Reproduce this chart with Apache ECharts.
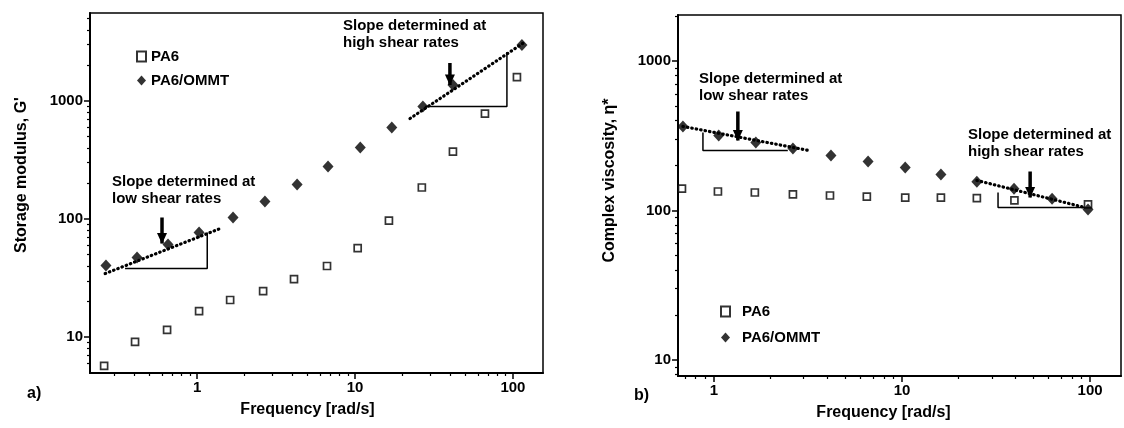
<!DOCTYPE html>
<html>
<head>
<meta charset="utf-8">
<script src="https://cdn.jsdelivr.net/npm/echarts@6/dist/echarts.min.js"></script>
<style>
  html, body { margin: 0; padding: 0; background: #fff; }
  #main { width: 1124px; height: 428px; }
</style>
</head>
<body>
<div id="main"></div>
<script>
// panel a) storage modulus G'
const freqA_PA6 = [0.258, 0.405, 0.646, 1.03, 1.62, 2.62, 4.11, 6.65, 10.4, 16.4, 26.5, 41.7, 66.5, 106]
const gA_PA6 = [5.7, 9.1, 11.5, 16.6, 20.6, 24.5, 31, 40, 56.8, 97, 185, 373, 783, 1596]
const freqA_OMMT = [0.265, 0.417, 0.655, 1.03, 1.69, 2.69, 4.3, 6.75, 10.8, 17.1, 26.9, 41.7, 114]
const gA_OMMT = [40.4, 47.2, 60.8, 76.9, 103, 141, 196, 279, 404, 596, 897, 1367, 2985]

// panel b) complex viscosity
const freqB_PA6 = [0.676, 1.05, 1.65, 2.63, 4.14, 6.5, 10.4, 16.1, 25, 39.6, 97.5]
const etaB_PA6 = [140, 134, 132, 128, 126, 124, 122, 122, 121, 117, 110]
const freqB_OMMT = [0.684, 1.06, 1.67, 2.63, 4.19, 6.6, 10.4, 16.1, 25, 39.4, 62.8, 97.5]
const etaB_OMMT = [365, 318, 285, 260, 233, 213, 194, 174, 156, 140, 120, 101.5]

// slope guides [x, y]
const slopeA_low = [[0.262, 34.5], [1.40, 83]]
const triA_low = [[0.35, 38.1], [1.16, 38.1], [1.16, 76.9]]
const arrowA_low = [[0.60, 103], [0.60, 62]]
const slopeA_high = [[22.3, 711], [119, 3162]]
const triA_high = [[27.7, 897], [91.6, 897], [91.6, 2600]]
const arrowA_high = [[39.9, 2100], [39.9, 1367]]
const slopeB_low = [[0.684, 365], [3.2, 252]]
const triB_low = [[0.874, 332], [0.874, 252], [2.47, 252]]
const arrowB_low = [[1.34, 459], [1.34, 294]]
const slopeB_high = [[25, 159], [94, 104.7]]
const triB_high = [[32.4, 132], [32.4, 104.7], [94, 104.7]]
const arrowB_high = [[48, 182], [48, 122]]

// ticks
const xMajor = [1, 10, 100]
const xMinorA = [0.3, 0.4, 0.5, 0.6, 0.7, 0.8, 0.9, 2, 3, 4, 5, 6, 7, 8, 9, 20, 30, 40, 50, 60, 70, 80, 90]
const xMinorB = [0.7, 0.8, 0.9, 2, 3, 4, 5, 6, 7, 8, 9, 20, 30, 40, 50, 60, 70, 80, 90]
const yMajorA = [10, 100, 1000]
const yMinorA = [6, 7, 8, 9, 20, 30, 40, 50, 60, 70, 80, 90, 200, 300, 400, 500, 600, 700, 800, 900, 2000, 3000, 4000, 5000]
const yMajorB = [10, 100, 1000]
const yMinorB = [8, 9, 20, 30, 40, 50, 60, 70, 80, 90, 200, 300, 400, 500, 600, 700, 800, 900, 2000]

const FONT = 'Liberation Sans, Arial, Helvetica, sans-serif'
const INK = '#000'

const pairs = (xs, ys) => xs.map((x, i) => [x, ys[i]])
const fmt = (v) => String(+(+v).toPrecision(3))
const txt = (size) => ({ color: INK, fontSize: size, fontWeight: 'bold', fontFamily: FONT })

function majorAxis(grid, min, max, ticks, extra) {
  return Object.assign({
    type: 'log', gridIndex: grid, min, max,
    axisLine: { lineStyle: { color: INK, width: 2 } },
    axisTick: { customValues: ticks, length: 6, lineStyle: { color: INK, width: 1.5 } },
    axisLabel: Object.assign({ customValues: ticks, formatter: fmt, margin: 7 }, txt(15)),
    splitLine: { show: false },
    minorTick: { show: false },
  }, extra)
}
// second axis on the same grid, only there to draw the log minor ticks
function minorAxis(grid, min, max, ticks, position) {
  return {
    type: 'log', gridIndex: grid, min, max, position,
    axisLine: { show: false },
    axisTick: { show: true, customValues: ticks, length: 3, lineStyle: { color: INK, width: 1.2 } },
    axisLabel: { show: false },
    splitLine: { show: false },
  }
}
function guide(data, x, y, dotted) {
  return {
    type: 'line', xAxisIndex: x, yAxisIndex: y, data, symbol: 'none', silent: true,
    lineStyle: dotted
      ? { color: INK, width: 3.2, type: [0.5, 4], cap: 'round' }
      : { color: INK, width: 1.5 },
    z: 3,
  }
}
function arrow(data, x, y) {
  return {
    type: 'line', xAxisIndex: x, yAxisIndex: y, silent: true,
    data: [
      { value: data[0], symbol: 'none' },
      { value: data[1], symbol: 'triangle', symbolSize: [10, 11], symbolRotate: 180, symbolOffset: [0, -5] },
    ],
    lineStyle: { color: INK, width: 3.5 },
    itemStyle: { color: INK },
    z: 4,
  }
}
function squares(data, x, y) {
  return {
    name: 'PA6', type: 'scatter', xAxisIndex: x, yAxisIndex: y, data,
    symbol: 'rect', symbolSize: 7,
    itemStyle: { color: '#fff', borderColor: INK, borderWidth: 1.7 },
    z: 5,
  }
}
function diamonds(data, x, y) {
  return {
    name: 'PA6/OMMT', type: 'scatter', xAxisIndex: x, yAxisIndex: y, data,
    symbol: 'diamond', symbolSize: [11, 12],
    itemStyle: { color: INK },
    z: 5,
  }
}
function note(text, left, top) {
  return { type: 'text', left, top, style: { text, fill: INK, font: 'bold 15px ' + FONT, lineHeight: 17 } }
}

const chart = echarts.init(document.getElementById('main'))

chart.setOption({
  animation: false,
  grid: [
    { left: 90, top: 13, width: 453, height: 360, show: true, borderColor: INK, borderWidth: 1.5 },
    { left: 678, top: 15, width: 443, height: 361, show: true, borderColor: INK, borderWidth: 1.5 },
  ],
  xAxis: [
    majorAxis(0, 0.21, 155, xMajor, { position: 'bottom', name: 'Frequency [rad/s]', nameLocation: 'middle', nameGap: 29,
      nameTextStyle: Object.assign(txt(16), { padding: [0, 18, 0, 0] }) }),
    minorAxis(0, 0.21, 155, xMinorA, 'bottom'),
    majorAxis(1, 0.644, 146, xMajor, { position: 'bottom', name: 'Frequency [rad/s]', nameLocation: 'middle', nameGap: 29,
      nameTextStyle: Object.assign(txt(16), { padding: [0, 32, 0, 0] }) }),
    minorAxis(1, 0.644, 146, xMinorB, 'bottom'),
  ],
  yAxis: [
    majorAxis(0, 4.96, 5570, yMajorA, { position: 'left', name: "Storage modulus, G'", nameLocation: 'middle', nameGap: 60,
      nameTextStyle: Object.assign(txt(16), { padding: [0, 0, 0, 36] }) }),
    minorAxis(0, 4.96, 5570, yMinorA, 'left'),
    majorAxis(1, 7.82, 2030, yMajorB, { position: 'left', name: 'Complex viscosity, η*', nameLocation: 'middle', nameGap: 60,
      nameTextStyle: Object.assign(txt(16), { padding: [0, 0, 0, 30] }) }),
    minorAxis(1, 7.82, 2030, yMinorB, 'left'),
  ],
  legend: [
    { data: ['PA6', 'PA6/OMMT'], orient: 'vertical', left: 131, top: 44, itemWidth: 9, itemHeight: 10, itemGap: 9,
      selectedMode: false, textStyle: txt(15) },
    { data: ['PA6', 'PA6/OMMT'], orient: 'vertical', left: 715, top: 299, itemWidth: 9, itemHeight: 10, itemGap: 11,
      selectedMode: false, textStyle: Object.assign(txt(15), { padding: [0, 0, 0, 7] }) },
  ],
  graphic: [
    note('Slope determined at\nlow shear rates', 112, 173),
    note('Slope determined at\nhigh shear rates', 343, 17),
    note('Slope determined at\nlow shear rates', 699, 70),
    note('Slope determined at\nhigh shear rates', 968, 126),
    { type: 'text', left: 27, top: 386, style: { text: 'a)', fill: INK, font: 'bold 16px ' + FONT } },
    { type: 'text', left: 634, top: 388, style: { text: 'b)', fill: INK, font: 'bold 16px ' + FONT } },
  ],
  series: [
    squares(pairs(freqA_PA6, gA_PA6), 0, 0),
    diamonds(pairs(freqA_OMMT, gA_OMMT), 0, 0),
    guide(slopeA_low, 0, 0, true),
    guide(triA_low, 0, 0, false),
    arrow(arrowA_low, 0, 0),
    guide(slopeA_high, 0, 0, true),
    guide(triA_high, 0, 0, false),
    arrow(arrowA_high, 0, 0),

    squares(pairs(freqB_PA6, etaB_PA6), 2, 2),
    diamonds(pairs(freqB_OMMT, etaB_OMMT), 2, 2),
    guide(slopeB_low, 2, 2, true),
    guide(triB_low, 2, 2, false),
    arrow(arrowB_low, 2, 2),
    guide(slopeB_high, 2, 2, true),
    guide(triB_high, 2, 2, false),
    arrow(arrowB_high, 2, 2),
  ],
})
</script>
</body>
</html>
